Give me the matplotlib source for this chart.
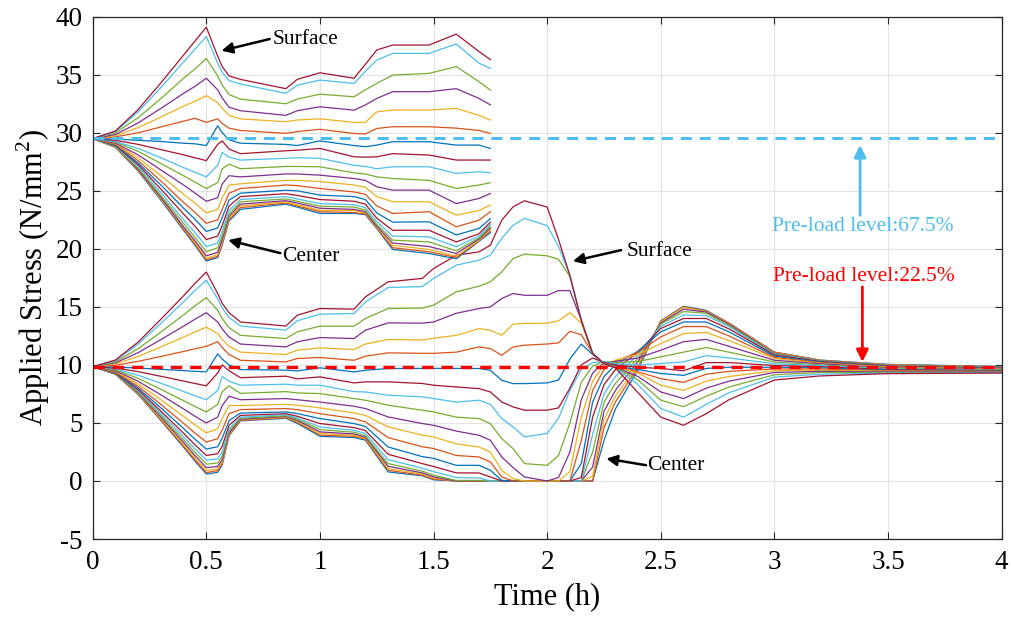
import numpy as np
import matplotlib
matplotlib.use('Agg')
from matplotlib import pyplot as plt

plt.rcParams['font.family'] = ['Liberation Serif', 'DejaVu Serif']
plt.rcParams['mathtext.fontset'] = 'custom'
plt.rcParams['mathtext.rm'] = 'Liberation Serif'
plt.rcParams['axes.unicode_minus'] = False

# MATLAB default colour order, layer k gets colors[k % 7]
colors = ['#0072BD', '#D95319', '#EDB120', '#7E2F8E', '#77AC30', '#4DBEEE', '#A2142F']

# pre-load 67.5% family, each row = one time, values from surface (layer 20) down to center (layer 0)
t_high = [0, 0.1, 0.2, 0.3, 0.4, 0.45, 0.5, 0.55, 0.57, 0.6, 0.65, 0.85, 0.9, 1.0,
          1.15, 1.2, 1.25, 1.32, 1.48, 1.6, 1.7, 1.75]
s_high = [
    [29.5] * 21,
    [30.15, 30.1, 30.0, 29.85, 29.75, 29.65, 29.45, 29.35, 29.25, 29.2, 29.1, 29.05, 29.0, 28.95, 28.9, 28.85, 28.8, 28.8, 28.75, 28.75, 28.75],
    [32.0, 31.8, 31.3, 30.85, 30.45, 30.0, 29.35, 29.0, 28.65, 28.4, 28.1, 27.85, 27.6, 27.4, 27.25, 27.1, 26.95, 26.85, 26.8, 26.75, 26.7],
    [34.3, 33.9, 32.95, 32.1, 31.35, 30.5, 29.25, 28.55, 27.85, 27.35, 26.8, 26.3, 25.85, 25.5, 25.15, 24.85, 24.6, 24.45, 24.35, 24.3, 24.2],
    [36.7, 36.1, 34.7, 33.4, 32.3, 31.0, 29.1, 28.1, 27.0, 26.3, 25.5, 24.7, 24.0, 23.5, 23.0, 22.5, 22.2, 21.9, 21.8, 21.7, 21.6],
    [37.9, 37.2, 35.5, 34.0, 32.7, 31.25, 29.05, 27.85, 26.6, 25.75, 24.8, 23.95, 23.15, 22.55, 21.95, 21.4, 21.0, 20.7, 20.55, 20.4, 20.3],
    [39.1, 38.3, 36.4, 34.7, 33.2, 30.9, 28.9, 27.6, 26.2, 25.2, 24.1, 23.1, 22.2, 21.5, 20.8, 20.2, 19.75, 19.4, 19.2, 19.05, 18.95],
    [36.6, 36.0, 34.9, 33.7, 32.6, 31.2, 30.6, 29.0, 27.2, 25.7, 24.4, 23.4, 22.5, 21.8, 21.1, 20.5, 20.1, 19.7, 19.5, 19.35, 19.25],
    [35.7, 35.2, 34.1, 33.0, 32.1, 30.8, 30.0, 29.3, 28.3, 26.9, 25.6, 24.4, 23.4, 22.7, 22.0, 21.5, 21.1, 20.8, 20.6, 20.45, 20.35],
    [34.9, 34.5, 33.3, 32.2, 31.5, 30.4, 29.4, 28.6, 27.9, 27.3, 26.3, 25.5, 24.8, 24.2, 23.7, 23.3, 23.0, 22.8, 22.6, 22.5, 22.4],
    [34.6, 34.2, 32.9, 31.9, 31.2, 30.2, 29.1, 28.2, 27.65, 26.9, 26.2, 25.6, 25.2, 24.8, 24.5, 24.25, 24.05, 23.85, 23.7, 23.55, 23.4],
    [33.8, 33.4, 32.5, 31.5, 30.95, 29.95, 29.0, 28.45, 27.8, 27.1, 26.45, 25.9, 25.5, 25.05, 24.75, 24.5, 24.3, 24.15, 24.05, 23.95, 23.85],
    [34.6, 34.1, 32.9, 31.9, 31.1, 30.1, 28.9, 28.5, 27.85, 27.1, 26.45, 25.9, 25.45, 25.0, 24.6, 24.3, 24.1, 23.95, 23.8, 23.7, 23.6],
    [35.17, 34.54, 33.33, 32.24, 31.2, 30.3, 29.3, 28.65, 27.8, 27.07, 26.35, 25.8, 25.2, 24.63, 24.25, 23.9, 23.68, 23.5, 23.33, 23.2, 23.05],
    [34.7, 34.25, 33.1, 31.95, 30.9, 29.94, 28.9, 27.93, 27.2, 26.55, 26.06, 25.5, 24.9, 24.5, 24.1, 23.8, 23.6, 23.4, 23.3, 23.13, 23.05],
    [35.9, 35.3, 33.7, 32.4, 30.9, 29.9, 28.8, 27.9, 27.1, 26.45, 25.9, 25.3, 24.7, 24.25, 23.85, 23.55, 23.35, 23.2, 23.1, 23.0, 22.95],
    [37.13, 36.26, 34.25, 32.96, 31.8, 30.37, 28.94, 27.93, 26.9, 26.2, 25.35, 24.5, 23.7, 23.1, 22.65, 22.35, 22.1, 21.95, 21.85, 21.8, 21.75],
    [37.56, 36.84, 34.97, 33.54, 31.96, 30.52, 29.23, 28.2, 27.07, 26.06, 25.06, 24.06, 23.05, 22.3, 21.6, 21.1, 20.75, 20.5, 20.3, 20.1, 19.95],
    [37.56, 36.84, 35.12, 33.54, 31.96, 30.52, 29.23, 28.08, 27.07, 25.9, 25.06, 24.06, 23.2, 22.33, 21.6, 21.04, 20.6, 20.2, 19.95, 19.75, 19.6],
    [38.5, 37.65, 35.7, 33.8, 32.1, 30.4, 28.94, 27.65, 26.5, 25.2, 23.9, 22.9, 21.9, 21.2, 20.6, 20.18, 19.83, 19.6, 19.37, 19.26, 19.14],
    [37.0, 36.0, 34.4, 32.96, 31.5, 30.2, 28.94, 27.65, 26.64, 25.5, 24.34, 23.3, 22.47, 21.76, 21.3, 21.1, 20.95, 20.85, 20.75, 20.7, 20.65],
    [36.3, 35.55, 33.68, 32.4, 31.1, 29.95, 28.65, 27.65, 26.55, 25.7, 24.77, 23.77, 23.2, 22.6, 22.3, 22.1, 21.96, 21.8, 21.7, 21.55, 21.4],
]

# pre-load 22.5% family, same layout
t_low = [0, 0.1, 0.2, 0.3, 0.4, 0.45, 0.5, 0.55, 0.57, 0.6, 0.65, 0.85, 0.9, 1.0, 1.15, 1.2,
         1.3, 1.45, 1.5, 1.6, 1.7, 1.75, 1.8, 1.85, 1.9, 2.0, 2.05, 2.1, 2.15, 2.2, 2.25,
         2.3, 2.4, 2.5, 2.6, 2.7, 2.8, 3.0, 3.2, 3.5, 4.0]
s_low = [
    [9.85] * 21,
    [10.42, 10.37, 10.27, 10.18, 10.09, 9.97, 9.82, 9.73, 9.65, 9.58, 9.51, 9.45, 9.39, 9.35, 9.31, 9.29, 9.26, 9.24, 9.22, 9.21, 9.2],
    [11.97, 11.79, 11.4, 11.06, 10.73, 10.31, 9.73, 9.42, 9.11, 8.84, 8.59, 8.37, 8.16, 8.0, 7.86, 7.76, 7.67, 7.59, 7.52, 7.48, 7.45],
    [13.93, 13.58, 12.83, 12.18, 11.55, 10.73, 9.62, 9.02, 8.42, 7.9, 7.42, 7.0, 6.6, 6.3, 6.02, 5.82, 5.65, 5.5, 5.37, 5.28, 5.22],
    [15.96, 15.44, 14.31, 13.34, 12.4, 11.16, 9.51, 8.61, 7.71, 6.92, 6.21, 5.57, 4.97, 4.52, 4.11, 3.81, 3.55, 3.32, 3.14, 3.0, 2.91],
    [17.02, 16.41, 15.09, 13.94, 12.84, 11.39, 9.45, 8.4, 7.34, 6.42, 5.58, 4.83, 4.13, 3.6, 3.12, 2.77, 2.46, 2.19, 1.97, 1.82, 1.71],
    [18.0, 17.3, 15.8, 14.5, 13.25, 11.6, 9.4, 8.2, 7.0, 5.95, 5.0, 4.15, 3.35, 2.75, 2.2, 1.8, 1.45, 1.15, 0.9, 0.72, 0.6],
    [16.15, 15.7, 14.7, 13.7, 12.7, 12.0, 10.95, 9.3, 7.8, 6.6, 5.5, 4.5, 3.65, 2.95, 2.35, 1.9, 1.55, 1.25, 1.05, 0.9, 0.75],
    [15.3, 14.9, 14.0, 13.1, 12.2, 11.5, 10.5, 10.0, 9.0, 7.7, 6.5, 5.4, 4.4, 3.7, 3.0, 2.5, 2.15, 1.85, 1.65, 1.5, 1.4],
    [14.5, 14.1, 13.2, 12.4, 11.6, 10.9, 10.0, 9.5, 8.6, 8.2, 7.3, 6.5, 5.8, 5.2, 4.8, 4.5, 4.3, 4.15, 4.05, 3.95, 3.9],
    [13.7, 13.35, 12.55, 11.8, 11.1, 10.4, 9.6, 8.9, 8.25, 7.55, 7.0, 6.5, 6.15, 5.85, 5.65, 5.5, 5.4, 5.32, 5.27, 5.22, 5.18],
    [13.35, 13.0, 12.27, 11.55, 10.9, 10.26, 9.55, 9.03, 8.34, 7.7, 7.1, 6.61, 6.24, 5.95, 5.8, 5.7, 5.62, 5.56, 5.5, 5.45, 5.4],
    [14.28, 13.8, 12.85, 11.99, 11.27, 10.55, 9.48, 8.8, 8.25, 7.59, 7.0, 6.53, 6.15, 5.81, 5.58, 5.43, 5.32, 5.23, 5.15, 5.06, 4.97],
    [14.86, 14.37, 13.34, 12.36, 11.47, 10.64, 9.75, 8.97, 8.25, 7.53, 6.8, 6.3, 5.8, 5.38, 4.95, 4.66, 4.43, 4.23, 4.1, 3.95, 3.85],
    [14.8, 14.43, 13.34, 12.27, 11.32, 10.4, 9.4, 8.45, 7.7, 7.1, 6.44, 5.86, 5.38, 4.95, 4.6, 4.37, 4.2, 4.05, 3.94, 3.85, 3.74],
    [15.86, 15.43, 14.0, 12.99, 11.8, 10.75, 9.54, 8.54, 7.67, 6.96, 6.24, 5.66, 5.1, 4.7, 4.35, 4.1, 3.9, 3.78, 3.68, 3.6, 3.52],
    [17.16, 16.67, 14.86, 13.62, 12.19, 11.04, 9.69, 8.54, 7.39, 6.53, 5.52, 4.66, 3.74, 2.93, 2.3, 1.84, 1.5, 1.27, 1.07, 0.92, 0.78],
    [17.45, 16.75, 14.9, 13.6, 12.15, 11.0, 9.7, 8.4, 7.25, 6.1, 4.95, 3.95, 2.95, 2.1, 1.5, 1.1, 0.85, 0.7, 0.6, 0.5, 0.45],
    [18.3, 17.45, 15.15, 13.7, 12.3, 11.0, 9.7, 8.25, 7.1, 5.95, 4.8, 3.8, 2.8, 1.95, 1.25, 0.8, 0.5, 0.35, 0.25, 0.15, 0.1],
    [19.45, 18.6, 16.3, 14.45, 12.55, 11.1, 9.7, 8.1, 6.8, 5.5, 4.3, 3.2, 2.2, 1.35, 0.7, 0.3, 0.05, 0, 0, 0, 0],
    [19.74, 19.02, 16.78, 14.86, 13.13, 11.55, 9.69, 7.96, 6.96, 5.38, 3.94, 2.93, 2.07, 1.35, 0.69, 0.26, 0.05, 0, 0, 0, 0],
    [20.32, 19.46, 17.16, 15.0, 12.99, 11.41, 9.54, 7.67, 6.61, 4.94, 3.51, 2.5, 1.64, 0.92, 0.35, 0, 0, 0, 0, 0, 0],
    [22.47, 20.9, 18.02, 15.72, 12.56, 10.83, 8.68, 6.81, 5.38, 3.65, 2.07, 0.92, 0.35, 0.06, 0, 0, 0, 0, 0, 0, 0],
    [23.62, 22.04, 19.17, 16.15, 13.51, 11.55, 8.39, 6.38, 4.66, 2.79, 1.15, 0.2, 0, 0, 0, 0, 0, 0, 0, 0, 0],
    [24.14, 22.62, 19.54, 16.0, 13.57, 11.7, 8.39, 6.1, 3.8, 1.5, 0.35, 0, 0, 0, 0, 0, 0, 0, 0, 0, 0],
    [23.6, 22.0, 19.4, 16.0, 13.6, 11.8, 8.45, 6.1, 4.1, 1.35, 0, 0, 0, 0, 0, 0, 0, 0, 0, 0, 0],
    [20.8, 20.2, 19.1, 16.4, 13.8, 11.9, 8.7, 6.3, 5.4, 2.2, 0.3, 0, 0, 0, 0, 0, 0, 0, 0, 0, 0],
    [17.7, 17.7, 17.6, 16.4, 14.5, 12.9, 10.5, 8.0, 7.8, 5.0, 2.5, 0.8, 0, 0, 0, 0, 0, 0, 0, 0, 0],
    [13.85, 13.85, 13.85, 13.85, 13.6, 12.6, 11.8, 10.0, 9.6, 8.5, 7.0, 5.5, 3.5, 1.5, 0.3, 0, 0, 0, 0, 0, 0],
    [11.0, 11.0, 11.0, 11.0, 11.0, 11.0, 10.9, 10.6, 10.2, 9.9, 9.3, 8.6, 7.8, 6.8, 5.5, 4.0, 2.5, 1.2, 0.4, 0, 0],
    [10.1, 10.1, 10.1, 10.1, 10.1, 10.1, 10.1, 10.2, 10.3, 10.3, 10.2, 10.0, 9.6, 9.0, 8.3, 7.5, 6.8, 6.0, 5.3, 4.6, 3.5],
    [9.75, 9.75, 9.8, 9.8, 9.85, 9.85, 9.9, 10.0, 10.1, 10.2, 10.3, 10.4, 10.3, 10.0, 9.6, 9.0, 8.4, 7.8, 7.3, 6.8, 6.2],
    [7.6, 8.3, 8.7, 9.0, 9.3, 9.4, 9.6, 9.8, 10.0, 10.3, 10.6, 10.9, 11.1, 11.2, 11.1, 10.9, 10.6, 10.3, 10.0, 9.8, 9.6],
    [5.5, 6.24, 6.96, 7.67, 8.25, 8.82, 9.26, 9.69, 10.12, 10.7, 11.27, 11.84, 12.42, 12.85, 13.14, 13.33, 13.5, 13.62, 13.71, 13.77, 13.8],
    [4.8, 5.5, 6.4, 7.1, 7.8, 8.5, 9.1, 9.5, 10.26, 11.1, 12.0, 12.7, 13.3, 13.7, 14.0, 14.3, 14.6, 14.8, 14.95, 15.0, 15.05],
    [5.8, 6.6, 7.3, 8.0, 8.6, 9.2, 9.7, 10.2, 10.8, 11.5, 12.2, 12.8, 13.3, 13.7, 14.0, 14.25, 14.45, 14.55, 14.6, 14.65, 14.7],
    [7.0, 7.6, 8.1, 8.6, 9.0, 9.45, 9.8, 10.2, 10.6, 11.1, 11.6, 12.1, 12.5, 12.85, 13.1, 13.3, 13.4, 13.5, 13.55, 13.6, 13.6],
    [8.7, 8.95, 9.15, 9.35, 9.5, 9.65, 9.8, 9.95, 10.1, 10.25, 10.4, 10.55, 10.65, 10.75, 10.85, 10.9, 10.95, 11.0, 11.05, 11.1, 11.1],
    [9.05, 9.2, 9.35, 9.45, 9.55, 9.65, 9.75, 9.85, 9.95, 10.0, 10.1, 10.15, 10.2, 10.25, 10.3, 10.32, 10.35, 10.37, 10.4, 10.4, 10.42],
    [9.25, 9.3, 9.35, 9.4, 9.45, 9.5, 9.55, 9.6, 9.65, 9.7, 9.75, 9.8, 9.83, 9.86, 9.9, 9.92, 9.95, 9.97, 10.0, 10.02, 10.05],
    [9.3, 9.33, 9.36, 9.39, 9.42, 9.45, 9.48, 9.51, 9.54, 9.57, 9.6, 9.63, 9.66, 9.69, 9.72, 9.75, 9.78, 9.8, 9.82, 9.84, 9.86],
]

level_high = 29.55
level_low = 9.85

fig = plt.figure(figsize=(10.12, 6.19), dpi=100)
ax = fig.add_axes([0.0916, 0.1292, 0.8982, 0.8438])

high = np.array(s_high).T[::-1]   # row k = layer k, center first
low = np.array(s_low).T[::-1]
for k in range(21):
    ax.plot(t_low, low[k], color=colors[k % 7], lw=0.9)
for k in range(21):
    ax.plot(t_high, high[k], color=colors[k % 7], lw=0.9)

ax.plot([0, 4], [level_high, level_high], color='#4DBEEE', lw=2.2, dashes=(3.6, 2.6))
ax.plot([0, 4], [level_low, level_low], color='red', lw=2.4, dashes=(3.4, 2.4))

blk = dict(arrowstyle='-|>', color='k', lw=1.8, mutation_scale=16, shrinkA=0, shrinkB=0)
ax.annotate('', xy=(0.567, 37.07), xytext=(0.779, 38.08), arrowprops=blk)
ax.text(0.79, 38.0, 'Surface', fontsize=15.5, va='center')
ax.annotate('', xy=(0.596, 20.75), xytext=(0.826, 19.63), arrowprops=blk)
ax.text(0.835, 19.3, 'Center', fontsize=15.5, va='center')
ax.annotate('', xy=(2.113, 18.94), xytext=(2.325, 19.89), arrowprops=blk)
ax.text(2.35, 19.75, 'Surface', fontsize=15.5, va='center')
ax.annotate('', xy=(2.26, 1.93), xytext=(2.435, 1.36), arrowprops=blk)
ax.text(2.44, 1.3, 'Center', fontsize=15.5, va='center')

ax.annotate('', xy=(3.377, 28.94), xytext=(3.377, 22.9),
            arrowprops=dict(arrowstyle='-|>', color='#4DBEEE', lw=2, mutation_scale=18, shrinkA=0, shrinkB=0))
ax.text(3.39, 21.9, 'Pre-load level:67.5%', color='#4DBEEE', fontsize=15.5, ha='center', va='center')
ax.annotate('', xy=(3.387, 10.26), xytext=(3.387, 16.72),
            arrowprops=dict(arrowstyle='-|>', color='red', lw=2, mutation_scale=18, shrinkA=0, shrinkB=0))
ax.text(3.395, 17.6, 'Pre-load level:22.5%', color='red', fontsize=15.5, ha='center', va='center')

ax.set_xlim(0, 4)
ax.set_ylim(-5, 40)
ax.set_xticks(np.arange(0, 4.01, 0.5))
ax.set_xticklabels(['0', '0.5', '1', '1.5', '2', '2.5', '3', '3.5', '4'])
ax.set_yticks(np.arange(-5, 41, 5))
ax.grid(True, color='#e3e3e3', lw=0.8)
ax.set_axisbelow(True)
ax.tick_params(direction='in', length=5, labelsize=19.5, top=True, right=True, color='#262626')
ax.tick_params(axis='x', pad=8)
ax.tick_params(axis='y', pad=7)
for sp in ax.spines.values():
    sp.set_color('#262626')
    sp.set_linewidth(0.9)
ax.set_xlabel('Time (h)', fontsize=22, labelpad=5)
ax.set_ylabel('Applied Stress (N/mm$^2$)', fontsize=22, labelpad=3)

plt.savefig('out.png', dpi=100)
